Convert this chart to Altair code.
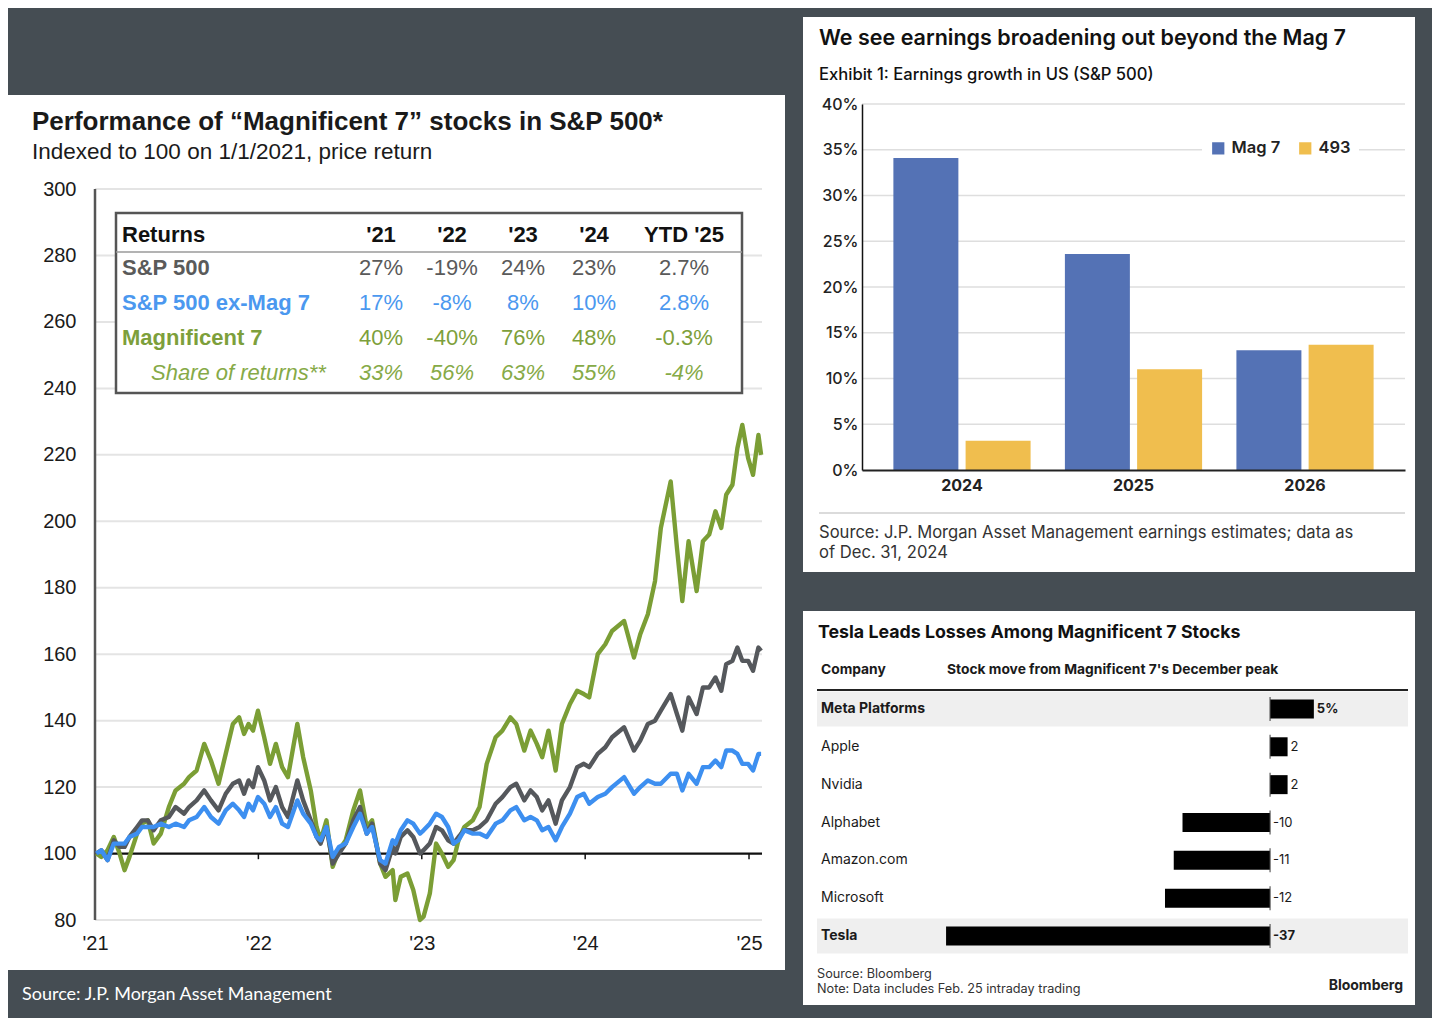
import altair as alt
import pandas as pd

# ---------------- data : left panel (index, 1/1/2021 = 100) ----------------
dates = [
    "2021-01-04", "2021-01-15", "2021-01-29", "2021-02-12", "2021-02-25", "2021-03-08", "2021-03-19",
    "2021-04-05", "2021-04-16", "2021-04-29", "2021-05-12", "2021-05-28", "2021-06-15", "2021-06-30",
    "2021-07-19", "2021-07-30", "2021-08-16", "2021-09-02", "2021-09-17", "2021-10-04", "2021-10-20",
    "2021-11-05", "2021-11-19", "2021-11-30", "2021-12-10", "2021-12-20", "2021-12-31",
    "2022-01-14", "2022-01-27", "2022-02-09", "2022-02-23", "2022-03-08", "2022-03-29", "2022-04-11",
    "2022-04-28", "2022-05-11", "2022-05-20", "2022-06-02", "2022-06-16", "2022-06-30", "2022-07-15",
    "2022-08-01", "2022-08-16", "2022-08-31", "2022-09-12", "2022-09-30", "2022-10-12", "2022-10-28",
    "2022-11-03", "2022-11-15", "2022-11-30", "2022-12-13", "2022-12-28",
    "2023-01-05", "2023-01-19", "2023-02-02", "2023-02-15", "2023-03-01", "2023-03-13", "2023-03-24",
    "2023-04-06", "2023-04-25", "2023-05-10", "2023-05-26", "2023-06-15", "2023-06-30", "2023-07-18",
    "2023-07-31", "2023-08-18", "2023-09-01", "2023-09-15", "2023-09-27", "2023-10-11", "2023-10-27",
    "2023-11-10", "2023-11-28", "2023-12-14", "2023-12-29",
    "2024-01-10", "2024-01-29", "2024-02-15", "2024-03-01", "2024-03-28", "2024-04-19", "2024-05-03",
    "2024-05-20", "2024-06-05", "2024-06-18", "2024-07-10", "2024-07-24", "2024-08-05", "2024-08-19",
    "2024-09-06", "2024-09-20", "2024-10-04", "2024-10-18", "2024-10-31", "2024-11-11", "2024-11-25",
    "2024-12-06", "2024-12-17", "2024-12-30", "2025-01-10", "2025-01-22", "2025-01-28",
]
mag7_index = [
    100, 99, 101, 105, 100, 95, 99, 106, 109, 110, 103, 106, 114, 119, 121, 123, 125, 133, 128, 121, 130,
    139, 141, 136, 139, 137, 143,
    135, 127, 133, 126, 123, 139, 129, 119, 108, 104, 110, 96, 101, 104, 113, 119, 108, 110, 97, 93, 95,
    86, 93, 94, 89, 80,
    81, 88, 103, 100, 96, 98, 104, 108, 110, 114, 127, 135, 137, 141, 139, 131, 137, 133, 129, 137, 125,
    139, 145, 149, 148,
    147, 160, 163, 167, 170, 159, 166, 172, 182, 198, 212, 192, 176, 194, 179, 194, 196, 203, 198, 208, 211,
    222, 229, 219, 214, 226, 220,
]
sp500_index = [
    100, 101, 98, 104, 102, 102, 105, 108, 110, 110, 107, 110, 111, 114, 112, 114, 116, 119, 116, 113, 118,
    121, 122, 118, 122, 120, 126,
    122, 116, 120, 114, 111, 122, 116, 110, 105, 103, 108, 97, 100, 103, 110, 114, 106, 109, 97, 95, 102,
    100, 105, 107, 105, 100,
    101, 103, 108, 107, 104, 103, 105, 107, 107, 108, 110, 115, 117, 120, 121, 116, 119, 117, 113, 116, 109,
    116, 120, 126, 127,
    126, 130, 132, 135, 138, 131, 134, 139, 140, 143, 148, 142, 137, 147, 142, 150, 150, 153, 149, 157, 158,
    162, 158, 158, 155, 162, 161,
]
exmag7_index = [
    100, 101, 98, 103, 103, 103, 105, 106, 108, 108, 108, 109, 108, 109, 108, 110, 111, 114, 111, 109, 113,
    115, 113, 111, 115, 113, 117,
    115, 111, 114, 109, 108, 116, 112, 109, 105, 104, 108, 99, 102, 103, 108, 112, 106, 108, 98, 97, 104,
    103, 107, 110, 109, 106,
    107, 109, 112, 111, 108, 103, 104, 107, 106, 106, 105, 109, 110, 113, 114, 110, 111, 110, 107, 108, 104,
    108, 112, 117, 118,
    115, 117, 118, 120, 123, 118, 120, 122, 121, 121, 124, 124, 119, 124, 121, 126, 126, 128, 126, 131, 131,
    130, 127, 127, 125, 130, 130,
]
series_names = ["Magnificent 7", "S&P 500", "S&P 500 ex-Mag 7"]
year_ticks = [2021, 2022, 2023, 2024, 2025]
y_ticks = [80, 100, 120, 140, 160, 180, 200, 220, 240, 260, 280, 300]

table_header = ["Returns", "'21", "'22", "'23", "'24", "YTD '25"]
table_rows = ["S&P 500", "S&P 500 ex-Mag 7", "Magnificent 7", "Share of returns**"]
sp500_ret = ["27%", "-19%", "24%", "23%", "2.7%"]
exmag7_ret = ["17%", "-8%", "8%", "10%", "2.8%"]
mag7_ret = ["40%", "-40%", "76%", "48%", "-0.3%"]
share_ret = ["33%", "56%", "63%", "55%", "-4%"]

# ---------------- data : top right ----------------
growth_years = ["2024", "2025", "2026"]
growth_series = ["Mag 7", "493"]
growth_mag7 = [34.1, 23.6, 13.1]
growth_493 = [3.2, 11.0, 13.7]
growth_ticks = [0, 5, 10, 15, 20, 25, 30, 35, 40]

# ---------------- data : bottom right ----------------
companies = ["Meta Platforms", "Apple", "Nvidia", "Alphabet", "Amazon.com", "Microsoft", "Tesla"]
moves = [5, 2, 2, -10, -11, -12, -37]
move_labels = ["5%", "2", "2", "-10", "-11", "-12", "-37"]
highlighted = ["Meta Platforms", "Tesla"]

# ---------------- styles ----------------
ARIAL = "Liberation Sans, Arial, sans-serif"
INTER = "Inter, Roboto, sans-serif"
LINE_COLORS = ["#7b9e35", "#55585c", "#3d8ff0"]
BG = "#454d53"
one = pd.DataFrame({"k": [0]})

# ======================= LEFT PANEL =======================
W1, H1 = 667, 816
lines_df = pd.DataFrame({
    "date": dates * 3,
    "value": mag7_index + sp500_index + exmag7_index,
    "series": [s for s in series_names for _ in dates],
})

XSC = alt.Scale(domain=[alt.DateTime(year=2021, month=1, date=1, utc=True),
                        alt.DateTime(year=2025, month=1, date=30, utc=True)])
XAX = alt.Axis(values=[alt.DateTime(year=y, month=1, date=1, utc=True) for y in year_ticks],
               labelExpr="\"'\" + utcFormat(datum.value, '%y')", title=None, grid=False,
               domain=False, ticks=False, labelFontSize=20, labelFont=ARIAL, labelColor="#1a1a1a",
               labelPadding=13, labelFlush=False, labelOverlap=False, zindex=1)
YSC = alt.Scale(domain=[80, 325.6], nice=False, zero=False)
YAX = alt.Axis(values=y_ticks, title=None, grid=False, domain=False, ticks=False, tickSize=0,
               labelPadding=19, labelFontSize=20, labelFont=ARIAL, labelColor="#1a1a1a", zindex=1)

l_bg = alt.Chart(one).mark_rect(color="white").encode(
    x=alt.value(-87), x2=alt.value(690), y=alt.value(-9), y2=alt.value(866))
l_grid = alt.Chart(pd.DataFrame({"v": [t for t in y_ticks if t != 100]})).mark_rule(
    color="#e4e4e4", strokeWidth=2).encode(y=alt.Y("v:Q", scale=YSC, axis=YAX))
l_base = alt.Chart(one).mark_rule(color="#111", strokeWidth=2.2).encode(y=alt.datum(100))
l_yticks = alt.Chart(pd.DataFrame({"d": [f"{y}-01-01" for y in year_ticks]})).mark_rule(
    color="#111", strokeWidth=1.5).encode(
    x=alt.X("d:T", scale=XSC, axis=XAX), y=alt.datum(100), y2=alt.datum(98.3))
l_yline = alt.Chart(one).mark_rule(color="#555", strokeWidth=2.5).encode(
    x=alt.value(0), y=alt.datum(80), y2=alt.datum(300))

l_lines = []
for name, col in zip(series_names, LINE_COLORS):
    l_lines.append(
        alt.Chart(lines_df).transform_filter(alt.datum.series == name).mark_line(
            color=col, strokeWidth=4.4, strokeJoin="round").encode(
            x=alt.X("date:T", scale=XSC, axis=XAX),
            y=alt.Y("value:Q", scale=YSC, axis=YAX)))

l_box = alt.Chart(one).mark_rect(fill="white", stroke="#555", strokeWidth=2.5).encode(
    x=alt.value(21), x2=alt.value(647), y=alt.value(109), y2=alt.value(289))
l_hdr = alt.Chart(one).mark_rule(color="#9a9a9a", strokeWidth=1.5).encode(
    x=alt.value(21), x2=alt.value(647), y=alt.value(148))
l_title = alt.Chart(one).mark_text(
    text="Performance of \u201cMagnificent 7\u201d stocks in S&P 500*", align="left", baseline="middle",
    font=ARIAL, fontSize=26, fontWeight="bold", color="#1a1a1a").encode(x=alt.value(-63), y=alt.value(18))
l_sub = alt.Chart(one).mark_text(
    text="Indexed to 100 on 1/1/2021, price return", align="left", baseline="middle",
    font=ARIAL, fontSize=22.5, color="#1a1a1a").encode(x=alt.value(-63), y=alt.value(48))
l_src = alt.Chart(one).mark_text(
    text="Source: J.P. Morgan Asset Management", align="left", baseline="middle",
    font="Lato, Open Sans, sans-serif", fontSize=18, color="white").encode(x=alt.value(-73), y=alt.value(891))

main_left = alt.layer(l_bg, l_grid, l_base, l_yticks, l_yline, *l_lines, l_box, l_hdr, l_title, l_sub, l_src)

# table cells
cells = [dict(ri=0, ci=0, txt=table_header[0], row="hdr")]
for j, h in enumerate(table_header[1:], 1):
    cells.append(dict(ri=0, ci=j, txt=h, row="hdr"))
for i, (lab, vals, key) in enumerate(zip(table_rows, [sp500_ret, exmag7_ret, mag7_ret, share_ret],
                                         ["sp", "ex", "m7", "share"]), 1):
    cells.append(dict(ri=i, ci=0, txt=lab, row=key))
    for j, v in enumerate(vals, 1):
        cells.append(dict(ri=i, ci=j, txt=v, row=key))
table_df = pd.DataFrame(cells)

TX = alt.X("ci:Q", scale=alt.Scale(domain=[0, 1, 4, 5], range=[27, 286, 499, 589], nice=False, zero=False), axis=None)
TY = alt.Y("ri:Q", scale=alt.Scale(domain=[0, 1, 4], range=[131, 164, 269], nice=False, zero=False), axis=None)
TC = alt.Color("row:N", scale=alt.Scale(domain=["hdr", "sp", "ex", "m7", "share"],
                                        range=["#111111", "#5a5a5a", "#4b98ef", "#7d9f3b", "#86aa47"]), legend=None)
tbase = alt.Chart(table_df).encode(x=TX, y=TY, color=TC, text="txt:N")
t1 = tbase.transform_filter("datum.ci == 0 && datum.ri < 4").mark_text(
    align="left", baseline="middle", font=ARIAL, fontSize=22, fontWeight="bold")
t2 = tbase.transform_filter("datum.ci > 0 && datum.ri == 0").mark_text(
    align="center", baseline="middle", font=ARIAL, fontSize=22, fontWeight="bold")
t3 = tbase.transform_filter("datum.ci > 0 && datum.ri >= 1 && datum.ri <= 3").mark_text(
    align="center", baseline="middle", font=ARIAL, fontSize=22)
t4 = tbase.transform_filter("datum.ci == 0 && datum.ri == 4").mark_text(
    align="left", baseline="middle", font=ARIAL, fontSize=22, fontStyle="italic", dx=29)
t5 = tbase.transform_filter("datum.ci > 0 && datum.ri == 4").mark_text(
    align="center", baseline="middle", font=ARIAL, fontSize=22, fontStyle="italic")
table_layer = alt.layer(t1, t2, t3, t4, t5)

left = alt.layer(main_left, table_layer).resolve_scale(
    x="independent", y="independent", color="independent").properties(width=W1, height=H1)

# ======================= TOP RIGHT =======================
W2, H2 = 543, 366
bar_df = pd.DataFrame({
    "year": growth_years * 2,
    "series": [growth_series[0]] * 3 + [growth_series[1]] * 3,
    "growth": growth_mag7 + growth_493,
})
GY = alt.Scale(domain=[0, 40], nice=False, zero=False)
GYAX = alt.Axis(values=growth_ticks, labelExpr="datum.value + '%'", title=None, grid=False,
                ticks=False, tickSize=0, labelPadding=4, labelFontSize=16, labelFont=INTER,
                labelFontWeight=500, labelColor="#222", domainColor="#111", domainWidth=1.5, zindex=1)
GXAX = alt.Axis(title=None, labelAngle=0, ticks=False, tickSize=0, labelPadding=7, labelFontSize=16,
                labelFont=INTER, labelFontWeight="bold", labelColor="#222", domainColor="#222",
                domainWidth=2, zindex=1)

r_bg = alt.Chart(one).mark_rect(color="white").encode(
    x=alt.value(-59), x2=alt.value(553), y=alt.value(-87), y2=alt.value(468))
r_grid = alt.Chart(pd.DataFrame({"v": growth_ticks[1:]})).mark_rule(
    color="#dedede", strokeWidth=1.5).encode(y=alt.Y("v:Q", scale=GY, axis=GYAX))
r_bars = alt.Chart(bar_df).mark_bar().encode(
    x=alt.X("year:N", scale=alt.Scale(paddingInner=0.2, paddingOuter=0.183), axis=GXAX),
    xOffset=alt.XOffset("series:N", sort=growth_series,
                        scale=alt.Scale(domain=growth_series, paddingInner=0.1, paddingOuter=0)),
    y=alt.Y("growth:Q", scale=GY, axis=GYAX),
    color=alt.Color("series:N", sort=growth_series,
                    scale=alt.Scale(domain=growth_series, range=["#5472b5", "#f0be4e"]),
                    legend=alt.Legend(orient="none", legendX=340, legendY=28, direction="horizontal",
                                      title=None, fillColor="white", padding=8, symbolType="square",
                                      symbolSize=150, symbolStrokeWidth=0, labelFontSize=16.5,
                                      labelFont=INTER, labelFontWeight=600, labelColor="#222",
                                      columnPadding=16, labelOffset=5)),
)
r_title = alt.Chart(one).mark_text(
    text="We see earnings broadening out beyond the Mag 7", align="left", baseline="middle",
    font=INTER, fontSize=21.5, fontWeight=600, color="#111").encode(x=alt.value(-43), y=alt.value(-65))
r_sub = alt.Chart(one).mark_text(
    text="Exhibit 1: Earnings growth in US (S&P 500)", align="left", baseline="middle",
    font=INTER, fontSize=16.6, fontWeight=500, color="#111").encode(x=alt.value(-43), y=alt.value(-29))
r_sep = alt.Chart(one).mark_rule(color="#cfcfcf", strokeWidth=1.5).encode(
    x=alt.value(-43), x2=alt.value(543), y=alt.value(409))
r_src1 = alt.Chart(one).mark_text(
    text="Source: J.P. Morgan Asset Management earnings estimates; data as", align="left",
    baseline="middle", font=INTER, fontSize=16.6, color="#333").encode(x=alt.value(-43), y=alt.value(429))
r_src2 = alt.Chart(one).mark_text(
    text="of Dec. 31, 2024", align="left", baseline="middle", font=INTER, fontSize=16.6,
    color="#333").encode(x=alt.value(-43), y=alt.value(449))

top_right = alt.layer(r_bg, r_grid, r_bars, r_title, r_sub, r_sep, r_src1, r_src2).properties(
    width=W2, height=H2)

# ======================= BOTTOM RIGHT =======================
W3, H3 = 546, 265
mv_df = pd.DataFrame({"company": companies, "move": moves, "label": move_labels})
BY = alt.Y("company:N", sort=companies,
           scale=alt.Scale(domain=companies, paddingInner=0, paddingOuter=0), axis=None)
BXS = alt.Scale(domain=[-46.6, 15.75], nice=False)
hl_pred = alt.FieldOneOfPredicate(field="company", oneOf=highlighted)
not_hl = {"not": hl_pred}

b_bg = alt.Chart(one).mark_rect(color="white").encode(
    x=alt.value(-59), x2=alt.value(553), y=alt.value(-79), y2=alt.value(315))
b_band = alt.Chart(mv_df).transform_filter(hl_pred).mark_bar(size=35, color="#efefef").encode(
    y=BY, x=alt.value(-45), x2=alt.value(546))
b_bars = alt.Chart(mv_df).mark_bar(size=19, color="black").encode(
    y=BY, x=alt.X("move:Q", scale=BXS, axis=None), x2=alt.datum(0))
b_zero = alt.Chart(mv_df).mark_tick(orient="vertical", size=24, thickness=1.5, color="#444").encode(
    y=BY, x=alt.X(datum=0, scale=BXS, axis=None))
b_names_n = alt.Chart(mv_df).transform_filter(not_hl).mark_text(
    align="left", baseline="middle", font=INTER, fontSize=14, color="#1a1a1a").encode(
    y=BY, x=alt.value(-41), text="company:N")
b_names_b = alt.Chart(mv_df).transform_filter(hl_pred).mark_text(
    align="left", baseline="middle", font=INTER, fontSize=14, fontWeight="bold", color="#1a1a1a").encode(
    y=BY, x=alt.value(-41), text="company:N")
lab_base = alt.Chart(mv_df).transform_calculate(lx="max(datum.move, 0)")
b_lab_n = lab_base.transform_filter(not_hl).mark_text(
    align="left", baseline="middle", dx=3, font=INTER, fontSize=13, color="#1a1a1a").encode(
    y=BY, x=alt.X("lx:Q", scale=BXS, axis=None), text="label:N")
b_lab_b = lab_base.transform_filter(hl_pred).mark_text(
    align="left", baseline="middle", dx=3, font=INTER, fontSize=13, fontWeight="bold", color="#1a1a1a").encode(
    y=BY, x=alt.X("lx:Q", scale=BXS, axis=None), text="label:N")
b_title = alt.Chart(one).mark_text(
    text="Tesla Leads Losses Among Magnificent 7 Stocks", align="left", baseline="middle",
    font=INTER, fontSize=17.8, fontWeight="bold", color="#111").encode(x=alt.value(-44), y=alt.value(-57))
b_h1 = alt.Chart(one).mark_text(
    text="Company", align="left", baseline="middle", font=INTER, fontSize=13.8, fontWeight="bold",
    color="#1a1a1a").encode(x=alt.value(-41), y=alt.value(-20))
b_h2 = alt.Chart(one).mark_text(
    text="Stock move from Magnificent 7's December peak", align="left", baseline="middle", font=INTER,
    fontSize=13.8, fontWeight="bold", color="#1a1a1a").encode(x=alt.value(85), y=alt.value(-20))
b_rule = alt.Chart(one).mark_rule(color="#222", strokeWidth=2).encode(
    x=alt.value(-45), x2=alt.value(546), y=alt.value(0))
b_n1 = alt.Chart(one).mark_text(
    text="Source: Bloomberg", align="left", baseline="middle", font=INTER, fontSize=12.7,
    color="#333").encode(x=alt.value(-45), y=alt.value(284))
b_n2 = alt.Chart(one).mark_text(
    text="Note: Data includes Feb. 25 intraday trading", align="left", baseline="middle", font=INTER,
    fontSize=12.7, color="#333").encode(x=alt.value(-45), y=alt.value(299))
b_logo = alt.Chart(one).mark_text(
    text="Bloomberg", align="right", baseline="middle", font=INTER, fontSize=14, fontWeight="bold",
    color="#222").encode(x=alt.value(541), y=alt.value(296))

bottom_right = alt.layer(b_bg, b_band, b_bars, b_zero, b_names_n, b_names_b, b_lab_n, b_lab_b,
                         b_title, b_h1, b_h2, b_rule, b_n1, b_n2, b_logo).properties(width=W3, height=H3)

right = alt.vconcat(top_right, bottom_right, spacing=220, bounds="flush").resolve_scale(
    color="independent")
chart = alt.hconcat(left, right, spacing=100, bounds="flush").resolve_scale(
    color="independent").properties(
    background=BG, padding={"top": 9, "left": 0, "right": 17, "bottom": 13}
).configure_view(stroke=None)

chart.save("out.html", embed_options={"renderer": "svg", "actions": False})
